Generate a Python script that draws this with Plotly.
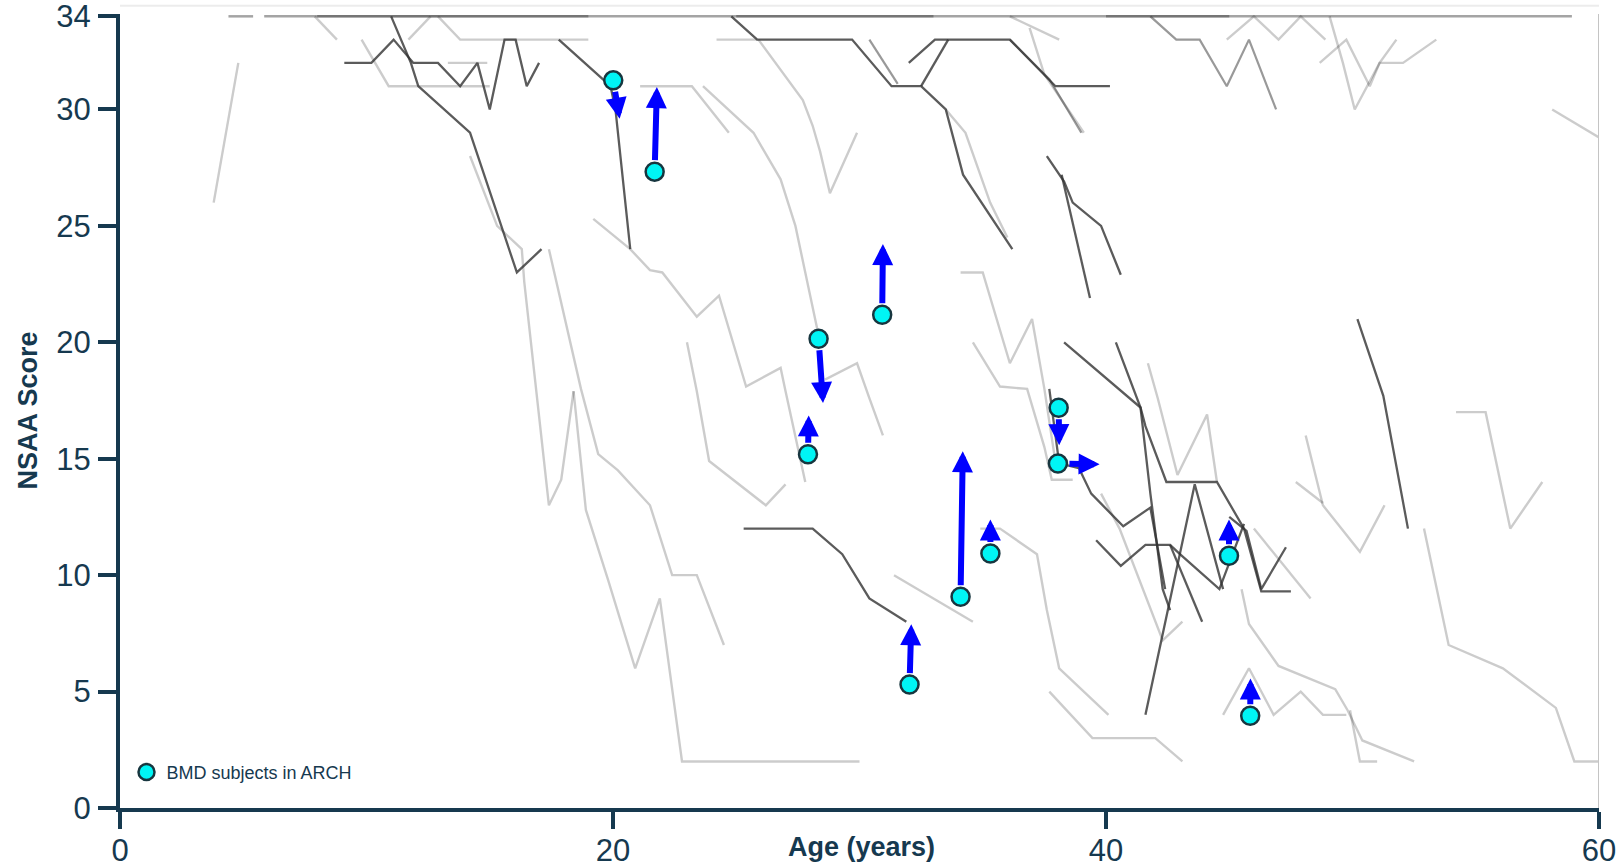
import plotly.graph_objects as go

# ---------------- data ----------------
# Ceiling trajectories (score 34)
ceil_light_ages = [[4.4, 5.4], [5.85, 58.9]]
ceil_dark_ages = [[8.0, 19.0], [25.0, 33.0], [40.0, 45.0]]

# Dark (more recent) trajectories
dark_ages = [
    [11.0, 11.8, 12.1, 14.2, 16.1, 17.1],
    [9.1, 10.2, 11.1, 11.9, 12.9, 13.8, 14.5, 15.0, 15.6, 16.05, 16.5, 17.0],
    [17.8, 19.9, 20.1, 20.7],
    [24.8, 25.85, 29.7, 31.3, 32.5, 33.5, 34.2, 36.2],
    [32.0, 33.06, 36.1, 37.95, 40.16],
    [32.5, 33.6],
    [37.6, 38.3, 38.65, 39.8, 40.6],
    [38.2, 39.35],
    [25.3, 28.1, 29.3, 30.4, 31.9],
    [50.2, 51.25, 52.25],
    [38.3, 41.4, 41.6, 42.45, 44.5, 45.6, 46.3, 47.5],
    [40.4, 41.4, 41.8, 42.3, 42.6],
    [37.7, 38.1, 38.9, 39.4, 40.7, 41.8, 42.4],
    [39.6, 40.6, 41.6, 42.6, 43.0, 44.6, 45.6],
    [41.6, 43.6, 44.75],
    [45.0, 45.7, 46.3, 47.3],
    [42.6, 43.9],
]
dark_scores = [
    [34, 32, 31, 29, 23, 24],
    [32, 32, 33, 32, 32, 31, 32, 30, 33, 33, 31, 32],
    [33, 31, 30, 24],
    [34, 33, 33, 31, 31, 30, 27.2, 24],
    [32, 33, 33, 31, 31],
    [31, 33],
    [28, 26.9, 26, 25, 22.9],
    [27.2, 21.9],
    [12, 12, 10.9, 9, 8],
    [21, 17.7, 12],
    [20, 17.2, 16.4, 14, 14, 12, 9.3, 9.3],
    [20, 17.2, 13.5, 9.4, 8.5],
    [18, 14.8, 14.6, 13.5, 12.1, 12.9, 9.4],
    [11.5, 10.4, 11.3, 11.3, 10.9, 9.4, 12.2],
    [4, 13.9, 9.4],
    [12.5, 11.9, 9.4, 11.2],
    [11.3, 8.0],
]

# Medium grey trajectories
mid_ages = [
    [41.8, 42.85, 43.8, 44.9, 45.8, 46.9],
    [36.1, 37.7, 39.0],
    [30.4, 31.55],
]
mid_scores = [
    [34, 33, 33, 31, 33, 30],
    [33, 31.3, 29],
    [33, 31.1],
]

# Light grey trajectories
light_ages = [
    [3.8, 4.8],
    [7.9, 8.8],
    [9.8, 10.9, 13.0, 15.0],
    [11.7, 12.6],
    [12.9, 13.8, 19.0],
    [13.3, 14.9],
    [14.2, 15.3, 16.3, 16.4, 17.4, 17.9, 18.4],
    [17.4, 18.7, 19.4, 20.2, 21.5, 22.4, 23.4, 24.5],
    [18.4, 18.9, 19.8, 20.9, 21.9, 22.8, 30.0],
    [19.2, 20.7, 21.5, 22.0, 23.4, 24.3, 25.4, 26.8, 27.0, 27.8],
    [21.1, 23.2, 24.7],
    [23.65, 25.7, 26.8, 27.4, 28.0, 28.4],
    [25.9, 26.6, 27.3, 27.7, 28.1, 28.4, 28.8, 29.9],
    [34.1, 35.0, 36.1, 37.0, 37.5, 38.0],
    [34.6, 35.7, 36.8, 37.5, 37.8, 38.65],
    [33.5, 34.3, 35.3, 36.0],
    [23.0, 23.4, 23.9, 26.2, 27.0],
    [28.6, 29.9, 30.4, 30.95],
    [31.4, 34.6],
    [34.9, 35.7, 37.2, 37.6, 38.1, 40.1],
    [37.7, 39.45, 42.0, 43.1],
    [45.5, 45.8, 47.0, 49.3, 49.8, 50.4, 52.5],
    [49.9, 50.3, 51.0],
    [44.75, 45.8, 46.8, 47.9, 48.8, 49.75],
    [52.9, 53.9, 56.1, 58.25, 59.0, 60.0],
    [48.1, 48.8, 50.3, 51.3],
    [47.7, 48.8],
    [54.2, 55.4, 56.4, 57.7],
    [58.1, 60.0],
    [49.07, 49.61, 50.09, 51.1, 51.78],
    [48.67, 49.75, 50.7, 51.1, 52.05, 53.4],
    [44.9, 46.0, 47.0, 47.9, 48.9],
    [36.1, 38.1],
    [36.9, 37.5, 39.1],
    [41.7, 42.1, 42.9, 44.1, 44.5],
    [46.0, 48.3],
    [39.8, 40.55, 42.3, 43.1],
    [24.2, 25.85],
]
light_scores = [
    [26, 32],
    [34, 33],
    [33, 31, 31, 31],
    [33, 34],
    [34, 33, 33],
    [32, 32],
    [28, 25, 24, 22.6, 13, 14.1, 17.9],
    [24, 18, 15.2, 14.5, 13, 10, 10, 7],
    [17.9, 12.8, 9.8, 6, 9, 2, 2],
    [25.3, 24, 23.1, 23, 21.1, 22, 18.1, 18.9, 17.9, 14],
    [31, 31, 29],
    [31, 29, 27, 25, 22, 20],
    [33, 32, 31, 30.4, 29.3, 28.2, 26.4, 29],
    [23, 23, 19.1, 21, 18, 14.5],
    [20, 18.1, 18, 15.5, 14.1, 14.1],
    [30, 29, 26, 24.5],
    [20, 17.9, 14.9, 13, 13.9],
    [18.4, 19.1, 17.6, 16],
    [10, 8],
    [12, 12, 10.9, 8.5, 6, 4],
    [5, 3, 3, 2],
    [9.4, 7.9, 6.1, 5.1, 4.2, 2.9, 2],
    [4.2, 2, 2],
    [4, 6, 4, 5, 4, 4],
    [12, 7, 6, 4.3, 2, 2],
    [16, 13, 11, 13],
    [14, 13.1],
    [17, 17, 12, 14],
    [30, 28.8],
    [34, 32, 30, 32, 33],
    [32, 33, 31, 32, 32, 33],
    [33, 34, 33, 34, 33],
    [34, 33],
    [33.5, 31.5, 29],
    [19.1, 17.6, 14.3, 16.9, 14],
    [12, 9],
    [13.5, 12, 7.2, 8],
    [33, 33],
]

# BMD subjects in ARCH and their change (arrow ends)
bmd_age = [20.01, 21.69, 28.34, 27.91, 30.92, 32.03, 34.10, 35.31, 38.08, 38.05, 44.99, 45.85]
bmd_score = [31.25, 27.33, 20.15, 15.19, 21.18, 5.30, 9.07, 10.93, 17.19, 14.79, 10.83, 3.96]
arrow_age = [20.27, 21.78, 28.52, 27.94, 30.95, 32.10, 34.19, 35.31, 38.10, 39.74, 44.99, 45.86]
arrow_score = [29.60, 30.96, 17.39, 16.86, 24.22, 7.89, 15.32, 12.39, 15.58, 14.76, 12.39, 5.56]

x_ticks = [0, 20, 40, 60]
y_ticks = [0, 5, 10, 15, 20, 25, 30, 34]

# ---------------- figure ----------------
NAVY = "#16394f"
FONT = "Arial, Liberation Sans, sans-serif"

fig = go.Figure()


def add_group(ages_list, scores_list, color, width):
    for xs, ys in zip(ages_list, scores_list):
        fig.add_trace(go.Scatter(x=xs, y=ys, mode="lines",
                                 line=dict(color=color, width=width),
                                 showlegend=False, hoverinfo="skip"))


add_group(ceil_light_ages, [[34] * len(a) for a in ceil_light_ages], "rgba(90,90,90,0.55)", 2.5)
add_group(light_ages, light_scores, "rgba(0,0,0,0.2)", 2.4)
add_group(mid_ages, mid_scores, "rgba(70,70,70,0.55)", 2.2)
add_group(ceil_dark_ages, [[34] * len(a) for a in ceil_dark_ages], "rgba(60,60,60,0.45)", 2.5)
add_group(dark_ages, dark_scores, "rgba(50,50,50,0.8)", 2.3)

fig.add_trace(go.Scatter(
    x=bmd_age, y=bmd_score, mode="markers", name="BMD subjects in ARCH",
    marker=dict(size=18, color="#00f5f5", line=dict(color="#17363f", width=2.5)),
    showlegend=True))

annotations = []
for a0, s0, a1, s1 in zip(bmd_age, bmd_score, arrow_age, arrow_score):
    annotations.append(dict(
        x=a1, y=s1, ax=a0, ay=s0, xref="x", yref="y", axref="x", ayref="y",
        text="", showarrow=True, arrowhead=2, arrowsize=0.7, arrowwidth=6,
        arrowcolor="#0000ff", startstandoff=10, standoff=0))

annotations.append(dict(text="<b>Age (years)</b>", x=0.5014, y=-0.0487, xref="paper", yref="paper",
                        xanchor="center", yanchor="middle", showarrow=False,
                        font=dict(family=FONT, size=27, color=NAVY)))
annotations.append(dict(text="<b>NSAA Score</b>", x=-0.0625, y=0.5, xref="paper", yref="paper",
                        xanchor="center", yanchor="middle", showarrow=False, textangle=-90,
                        font=dict(family=FONT, size=27, color=NAVY)))

fig.update_layout(
    width=1619, height=868,
    margin=dict(l=120, r=20, t=14, b=60, autoexpand=False),
    paper_bgcolor="white", plot_bgcolor="white",
    font=dict(family=FONT, color=NAVY),
    annotations=annotations,
    legend=dict(x=0.0044, y=0.045, xanchor="left", yanchor="middle",
                bgcolor="rgba(0,0,0,0)", font=dict(family=FONT, size=18, color=NAVY),
                itemwidth=30),
    shapes=[
        dict(type="line", xref="x", yref="paper", x0=60, x1=60, y0=0, y1=1,
             line=dict(color="#c4c4c4", width=2)),
        dict(type="line", xref="paper", yref="paper", x0=0, x1=1, y0=1.0105, y1=1.0105,
             line=dict(color="#ececec", width=2)),
    ],
)

fig.update_xaxes(range=[0, 60], tickvals=x_ticks, showgrid=False, zeroline=False,
                 automargin=False, ticklabeloverflow="allow",
                 showline=True, linewidth=4, linecolor=NAVY,
                 ticks="outside", ticklen=17, tickwidth=4, tickcolor=NAVY,
                 tickfont=dict(family=FONT, size=31, color=NAVY), ticklabelstandoff=-5)
fig.update_yaxes(range=[0, 34.1], tickvals=y_ticks, showgrid=False, zeroline=False,
                 automargin=False, ticklabeloverflow="allow",
                 showline=True, linewidth=4, linecolor=NAVY,
                 ticks="outside", ticklen=18, tickwidth=4, tickcolor=NAVY,
                 tickfont=dict(family=FONT, size=31, color=NAVY), ticklabelstandoff=1)

# remove the browser's default 8px page margin so the figure fills the window exactly
fig.write_html("out.html",
               config={"displayModeBar": False},
               post_script="document.body.style.margin='0';document.body.style.overflow='hidden';")
